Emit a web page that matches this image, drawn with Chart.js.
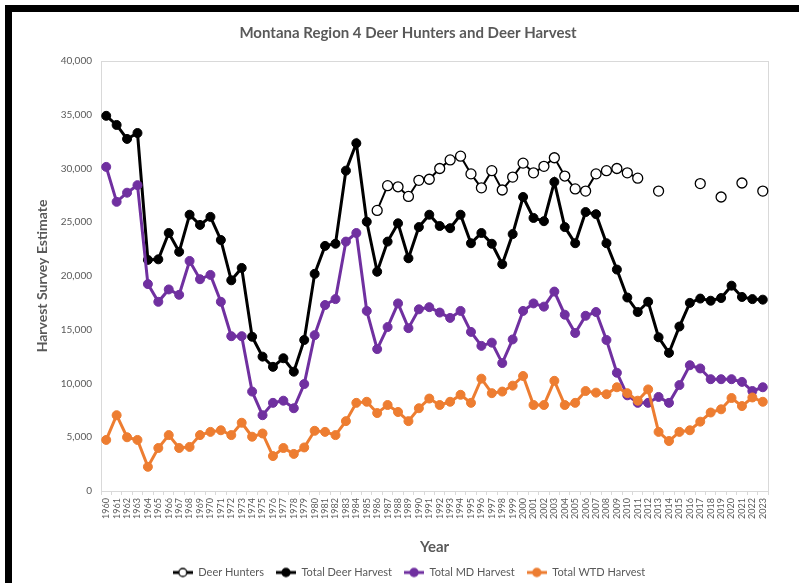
<!DOCTYPE html>
<html><head><meta charset="utf-8">
<script src="https://cdn.jsdelivr.net/npm/chart.js@4.4.1/dist/chart.umd.min.js"></script>
<style>
html,body{margin:0;padding:0;background:#fff;}
#wrap{position:relative;width:799px;height:583px;overflow:hidden;background:#fff;}
#c{position:absolute;left:0;top:0;}
#frame{position:absolute;left:5px;top:5px;width:820px;height:620px;border-top:7px solid #000;border-left:7px solid #000;pointer-events:none;}
</style></head><body>
<div id="wrap"><canvas id="c" width="799" height="583"></canvas><div id="frame"></div></div>
<script>
const years = ['1960','1961','1962','1963','1964','1965','1966','1967','1968','1969',
'1970','1971','1972','1973','1974','1975','1976','1977','1978','1979',
'1980','1981','1982','1983','1984','1985','1986','1987','1988','1989',
'1990','1991','1992','1993','1994','1995','1996','1997','1998','1999',
'2000','2001','2002','2003','2004','2005','2006','2007','2008','2009',
'2010','2011','2012','2013','2014','2015','2016','2017','2018','2019',
'2020','2021','2022','2023'];

const deerHunters = [null,null,null,null,null,null,null,null,null,null,
null,null,null,null,null,null,null,null,null,null,
null,null,null,null,null,null,26100,28400,28300,27400,
28900,29000,30000,30800,31150,29500,28200,29800,28000,29200,
30500,29600,30200,31000,29300,28100,27900,29500,29800,30000,
29600,29100,null,27900,null,null,null,28600,null,27350,
null,28650,null,27900];

const totalDeerHarvest = [34900,34050,32750,33300,21500,21550,24000,22250,25700,24750,
25500,23350,19600,20750,14350,12500,11550,12350,11100,14050,
20200,22800,23000,29800,32350,25050,20400,23200,24900,21650,
24550,25700,24650,24450,25700,23050,24000,23000,21100,23900,
27350,25400,25100,28750,24550,23050,25950,25750,23050,20600,
18000,16650,17600,14300,12850,15300,17500,17900,17700,17950,
19100,18050,17850,17800];

const totalMDHarvest = [30150,26900,27750,28450,19250,17600,18750,18250,21400,19700,
20100,17600,14400,14400,9250,7050,8200,8400,7700,9950,
14500,17300,17850,23200,24000,16750,13200,15250,17450,15150,
16900,17100,16600,16100,16750,14800,13500,13800,11900,14100,
16750,17450,17150,18550,16400,14700,16300,16650,14050,11000,
8900,8200,8200,8750,8200,9850,11700,11400,10400,10400,
10400,10150,9300,9650];

const totalWTDHarvest = [4750,7050,5000,4750,2250,4000,5200,4000,4100,5200,
5500,5650,5200,6350,5050,5350,3250,4000,3450,4050,
5600,5500,5200,6500,8200,8300,7250,8000,7350,6500,
7700,8600,8000,8300,8950,8200,10450,9100,9250,9800,
10700,8000,8000,10250,8000,8200,9300,9150,9000,9650,
9100,8400,9450,5500,4650,5500,5650,6450,7300,7600,
8650,7900,8700,8300];

const yTicks = [0,5000,10000,15000,20000,25000,30000,35000,40000];

const TEXT = '#595959';
const PURPLE = '#7030A0';
const ORANGE = '#ED7D31';

function marker(color, fill) {
  const c = document.createElement('canvas');
  c.width = 20; c.height = 12;
  const x = c.getContext('2d');
  x.strokeStyle = color; x.lineWidth = 3;
  x.beginPath(); x.moveTo(0, 6); x.lineTo(20, 6); x.stroke();
  x.beginPath(); x.arc(10, 6, 4, 0, Math.PI * 2);
  x.fillStyle = fill; x.fill();
  x.lineWidth = 1.3; x.stroke();
  return c;
}

const plotBox = {
  id: 'plotBox',
  afterLayout(chart) {
    const lg = chart.legend;
    if (lg) { lg.top = 555; lg.left += 25; lg.right += 25; }
    const tb = chart.titleBlock;
    if (tb) { tb.left += 24; tb.right += 24; }
  },
  beforeDatasetsDraw(chart) {
    const {ctx, chartArea: a} = chart;
    ctx.save();
    ctx.strokeStyle = '#d9d9d9';
    ctx.lineWidth = 1;
    ctx.strokeRect(Math.round(a.left) + 0.5, Math.round(a.top) + 0.5,
      Math.round(a.right - a.left), Math.round(a.bottom - a.top));
    ctx.restore();
  }
};

function draw() {
  Chart.defaults.font.family = 'Lato';
  Chart.defaults.color = TEXT;
  const markers = [marker('#000', '#fff'), marker('#000', '#000'), marker(PURPLE, PURPLE), marker(ORANGE, ORANGE)];
  new Chart(document.getElementById('c'), {
    type: 'line',
    data: {
      labels: years,
      datasets: [
        {label: 'Deer Hunters', data: deerHunters, borderColor: '#000', borderWidth: 2,
         pointRadius: 5, pointBorderWidth: 1.3, pointBackgroundColor: '#fff', pointBorderColor: '#000',
         spanGaps: false, tension: 0, order: 3},
        {label: 'Total Deer Harvest', data: totalDeerHarvest, borderColor: '#000', borderWidth: 3,
         pointRadius: 4.5, pointBorderWidth: 1, pointBackgroundColor: '#000', pointBorderColor: '#000',
         tension: 0, order: 2},
        {label: 'Total MD Harvest', data: totalMDHarvest, borderColor: PURPLE, borderWidth: 3,
         pointRadius: 4.5, pointBorderWidth: 1, pointBackgroundColor: PURPLE, pointBorderColor: PURPLE,
         tension: 0, order: 1},
        {label: 'Total WTD Harvest', data: totalWTDHarvest, borderColor: ORANGE, borderWidth: 3,
         pointRadius: 4.5, pointBorderWidth: 1, pointBackgroundColor: ORANGE, pointBorderColor: ORANGE,
         tension: 0, order: 0}
      ]
    },
    options: {
      responsive: false,
      animation: false,
      devicePixelRatio: 1,
      layout: {padding: {left: 0, right: 31, top: 0, bottom: 0}},
      plugins: {
        tooltip: {enabled: false},
        title: {
          display: true,
          text: 'Montana Region 4 Deer Hunters and Deer Harvest',
          color: TEXT,
          font: {size: 15, weight: 'bold', family: 'Lato'},
          padding: {top: 24, bottom: 19}
        },
        legend: {
          position: 'bottom',
          maxHeight: 22,
          labels: {
            font: {size: 11, family: 'Lato'},
            color: TEXT,
            usePointStyle: true,
            pointStyleWidth: 20,
            padding: 12,
            generateLabels: chart => chart.data.datasets.map((ds, i) => ({
              text: ds.label, pointStyle: markers[i], fillStyle: ds.borderColor,
              strokeStyle: ds.borderColor, lineWidth: 0, hidden: false,
              datasetIndex: i, fontColor: TEXT
            }))
          }
        }
      },
      scales: {
        x: {
          offset: true,
          afterFit: s => { s.height = 70; },
          grid: {display: true, drawOnChartArea: false, drawTicks: true, tickLength: 4, color: '#d9d9d9', offset: true},
          border: {display: false},
          ticks: {font: {size: 9}, color: TEXT, minRotation: 90, maxRotation: 90, autoSkip: false, padding: 3},
          title: {display: true, text: 'Year', color: TEXT, font: {size: 15, weight: 'bold'}, padding: {top: 0, bottom: 5}}
        },
        y: {
          min: 0, max: 40000,
          afterFit: s => { s.width = 101; },
          afterBuildTicks: s => { s.ticks = yTicks.map(v => ({value: v})); },
          grid: {display: false, drawTicks: false},
          border: {display: false},
          ticks: {font: {size: 10}, color: TEXT, padding: 9,
                  callback: v => Number(v).toLocaleString('en-US')},
          title: {display: true, text: 'Harvest Survey Estimate', color: TEXT,
                  font: {size: 14, weight: 'bold'}, padding: {top: 34, bottom: 0}}
        }
      }
    },
    plugins: [plotBox]
  });
}

Promise.all([document.fonts.load('12px Lato'), document.fonts.load('bold 12px Lato')])
  .then(draw, draw);
</script>
</body></html>
